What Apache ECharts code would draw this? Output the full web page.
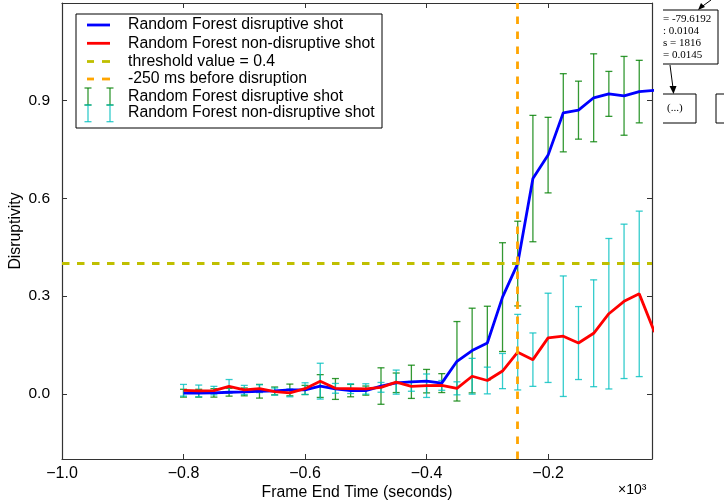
<!DOCTYPE html>
<html>
<head>
<meta charset="utf-8">
<script src="https://cdn.jsdelivr.net/npm/echarts@6/dist/echarts.min.js"></script>
<style>
  html, body { margin: 0; padding: 0; background: #fff; }
  #chart { width: 724px; height: 502px; }
</style>
</head>
<body>
<div id="chart"></div>
<script>
// frame end time, x10^3 seconds
const frameTimes = [-0.8, -0.775, -0.75, -0.725, -0.7, -0.675, -0.65, -0.625, -0.6, -0.575, -0.55, -0.525,
  -0.5, -0.475, -0.45, -0.425, -0.4, -0.375, -0.35, -0.325, -0.3, -0.275, -0.25, -0.225, -0.2, -0.175,
  -0.15, -0.125, -0.1, -0.075, -0.05, -0.025]
const disruptiveMean = [0.002, 0.002, 0.003, 0.005, 0.006, 0.008, 0.009, 0.012, 0.012, 0.024, 0.015, 0.010,
  0.010, 0.024, 0.034, 0.037, 0.039, 0.033, 0.100, 0.133, 0.156, 0.297, 0.400, 0.661, 0.733, 0.863,
  0.871, 0.909, 0.921, 0.915, 0.928, 0.932]
// last point lies outside the axis, no bar drawn for it
const disruptiveStd = [0.012, 0.012, 0.013, 0.012, 0.012, 0.021, 0.012, 0.018, 0.014, 0.035, 0.032, 0.019,
  0.014, 0.056, 0.030, 0.051, 0.036, 0.029, 0.122, 0.130, 0.113, 0.167, 0.130, 0.194, 0.116, 0.120,
  0.089, 0.135, 0.069, 0.121, 0.096, null]
const nonDisruptiveMean = [0.011, 0.009, 0.010, 0.023, 0.012, 0.016, 0.007, 0.003, 0.016, 0.039, 0.017, 0.016,
  0.015, 0.020, 0.036, 0.023, 0.025, 0.026, 0.017, 0.054, 0.041, 0.070, 0.128, 0.105, 0.172, 0.177,
  0.156, 0.186, 0.246, 0.284, 0.307, 0.190]
const nonDisruptiveStd = [0.018, 0.018, 0.013, 0.021, 0.014, 0.012, 0.011, 0.012, 0.018, 0.055, 0.015, 0.015,
  0.016, 0.015, 0.037, 0.015, 0.036, 0.015, 0.020, 0.055, 0.041, 0.054, 0.116, 0.082, 0.137, 0.185,
  0.112, 0.164, 0.231, 0.237, 0.254, null]
const thresholdValue = 0.4
const warningTime = -0.25
const xTicks = [-1.0, -0.8, -0.6, -0.4, -0.2]
const yTicks = [0.0, 0.3, 0.6, 0.9]
const legendNames = ['Random Forest disruptive shot', 'Random Forest non-disruptive shot',
  'threshold value = 0.4', '-250 ms before disruption', 'Random Forest disruptive shot',
  'Random Forest non-disruptive shot']
const treeLines = ['= -79.6192', ': 0.0104', 's = 1816', '= 0.0145']

const BLUE = '#0000ff'
const RED = '#ff0000'
const YELLOW = '#bfbf00'
const ORANGE = '#ffa500'
const GREEN = 'rgba(0,128,0,0.8)'
const CYAN = 'rgba(0,191,191,0.8)'
const FONT = 'Liberation Sans, Arial, sans-serif'

const chart = echarts.init(document.getElementById('chart'))

function pairs(ys) {
  return frameTimes.map((t, i) => [t, ys[i]])
}
function bars(mean, std) {
  return frameTimes
    .map((t, i) => std[i] == null ? null : [t, mean[i] - std[i], mean[i] + std[i]])
    .filter(d => d)
}
function minus(v) {
  return v.toFixed(1).replace('-', '\u2212')
}

function errorBarItem(color) {
  return function (params, api) {
    const x = api.value(0)
    const lo = api.coord([x, api.value(1)])
    const hi = api.coord([x, api.value(2)])
    const w = 3.5
    const style = { stroke: color, lineWidth: 1.3 }
    return {
      type: 'group',
      children: [
        { type: 'line', shape: { x1: lo[0], y1: lo[1], x2: hi[0], y2: hi[1] }, style },
        { type: 'line', shape: { x1: lo[0] - w, y1: lo[1], x2: lo[0] + w, y2: lo[1] }, style },
        { type: 'line', shape: { x1: hi[0] - w, y1: hi[1], x2: hi[0] + w, y2: hi[1] }, style }
      ]
    }
  }
}

// legend drawn by hand (two entries share a name)
const rowY = [25, 43.3, 61.5, 79, 96.7, 112.7]
const legend = [
  { type: 'rect', shape: { x: 76, y: 14, width: 306, height: 114 }, style: { fill: '#fff', stroke: '#000', lineWidth: 1 } },
  { type: 'line', shape: { x1: 87, y1: rowY[0], x2: 110, y2: rowY[0] }, style: { stroke: BLUE, lineWidth: 2.8 } },
  { type: 'line', shape: { x1: 87, y1: rowY[1], x2: 110, y2: rowY[1] }, style: { stroke: RED, lineWidth: 2.8 } },
  { type: 'line', shape: { x1: 87, y1: rowY[2], x2: 94, y2: rowY[2] }, style: { stroke: YELLOW, lineWidth: 2.8 } },
  { type: 'line', shape: { x1: 102, y1: rowY[2], x2: 110, y2: rowY[2] }, style: { stroke: YELLOW, lineWidth: 2.8 } },
  { type: 'line', shape: { x1: 87, y1: rowY[3], x2: 94, y2: rowY[3] }, style: { stroke: ORANGE, lineWidth: 2.8 } },
  { type: 'line', shape: { x1: 102, y1: rowY[3], x2: 110, y2: rowY[3] }, style: { stroke: ORANGE, lineWidth: 2.8 } }
]
;[[GREEN, 88, 105], [CYAN, 105, 121.7]].forEach(([c, y1, y2]) => {
  [88, 110].forEach(x => {
    const s = { stroke: c, lineWidth: 1.3 }
    legend.push({ type: 'line', shape: { x1: x, y1: y1, x2: x, y2: y2 }, style: s })
    legend.push({ type: 'line', shape: { x1: x - 3.5, y1: y1, x2: x + 3.5, y2: y1 }, style: s })
    legend.push({ type: 'line', shape: { x1: x - 3.5, y1: y2, x2: x + 3.5, y2: y2 }, style: s })
  })
})
legendNames.forEach((name, i) => {
  legend.push({
    type: 'text', x: 128, y: rowY[i],
    style: { text: name, font: '15.8px ' + FONT, fill: '#000', verticalAlign: 'middle' }
  })
})

// piece of the neighbouring tree figure, cut at the right edge
const tree = [
  { type: 'polyline', shape: { points: [[663, 10], [718, 10], [718, 64], [663, 64]] }, style: { stroke: '#000', lineWidth: 1, fill: null } },
  { type: 'polyline', shape: { points: [[663, 94], [696, 94], [696, 123], [663, 123]] }, style: { stroke: '#000', lineWidth: 1, fill: null } },
  { type: 'polyline', shape: { points: [[724, 94], [716, 94], [716, 123], [724, 123]] }, style: { stroke: '#000', lineWidth: 1, fill: null } },
  { type: 'line', shape: { x1: 711, y1: 0, x2: 700, y2: 8 }, style: { stroke: '#000', lineWidth: 1 } },
  { type: 'polygon', shape: { points: [[698, 10], [701, 3], [705, 7]] }, style: { fill: '#000' } },
  { type: 'line', shape: { x1: 670, y1: 65, x2: 673, y2: 88 }, style: { stroke: '#000', lineWidth: 1 } },
  { type: 'polygon', shape: { points: [[673.5, 94], [669.5, 86], [676.5, 86]] }, style: { fill: '#000' } },
  { type: 'text', x: 667, y: 108, style: { text: '(...)', font: '11px Liberation Serif, serif', fill: '#000', verticalAlign: 'middle' } }
]
treeLines.forEach((t, i) => {
  tree.push({ type: 'text', x: 663, y: 19 + i * 12, style: { text: t, font: '11px Liberation Serif, serif', fill: '#000', verticalAlign: 'middle' } })
})

const axisLine = { show: true, onZero: false, lineStyle: { color: '#333', width: 1.2 } }
const tick = { show: true, inside: true, length: 5, lineStyle: { color: '#333' } }

const option = {
  animation: false,
  grid: { left: 62, right: 72, top: 3, bottom: 43, containLabel: false, outerBoundsMode: 'none' },
  xAxis: [
    {
      type: 'value', min: -1.0, max: -0.029, position: 'bottom',
      axisLine: axisLine,
      axisTick: Object.assign({ customValues: xTicks }, tick),
      axisLabel: { customValues: xTicks, formatter: minus, color: '#000', fontSize: 16, fontFamily: FONT, margin: 7 },
      splitLine: { show: false },
      name: 'Frame End Time (seconds)', nameLocation: 'middle', nameGap: 26, nameMoveOverlap: false,
      nameTextStyle: { fontSize: 15.8, fontFamily: FONT, color: '#000' }
    },
    {
      type: 'value', min: -1.0, max: -0.029, position: 'top',
      axisLine: axisLine,
      axisTick: Object.assign({ customValues: xTicks }, tick),
      axisLabel: { show: false },
      splitLine: { show: false }
    }
  ],
  yAxis: [
    {
      type: 'value', min: -0.2, max: 1.2, position: 'left',
      axisLine: axisLine,
      axisTick: Object.assign({ customValues: yTicks }, tick),
      axisLabel: { customValues: yTicks, formatter: minus, color: '#000', fontSize: 15.5, fontFamily: FONT, margin: 12 },
      splitLine: { show: false },
      name: 'Disruptivity', nameLocation: 'middle', nameGap: 38, nameMoveOverlap: false,
      nameTextStyle: { fontSize: 15.8, fontFamily: FONT, color: '#000' }
    },
    {
      type: 'value', min: -0.2, max: 1.2, position: 'right',
      axisLine: axisLine,
      axisTick: Object.assign({ customValues: yTicks }, tick),
      axisLabel: { show: false },
      splitLine: { show: false }
    }
  ],
  series: [
    {
      type: 'custom', name: 'disruptive err', data: bars(disruptiveMean, disruptiveStd),
      renderItem: errorBarItem(GREEN), encode: { x: 0, y: [1, 2] }, clip: true, z: 1
    },
    {
      type: 'custom', name: 'non-disruptive err', data: bars(nonDisruptiveMean, nonDisruptiveStd),
      renderItem: errorBarItem(CYAN), encode: { x: 0, y: [1, 2] }, clip: true, z: 1
    },
    {
      type: 'line', name: 'disruptive', data: pairs(disruptiveMean), showSymbol: false, clip: true, z: 2,
      lineStyle: { color: BLUE, width: 2.8 }
    },
    {
      type: 'line', name: 'non-disruptive', data: pairs(nonDisruptiveMean), showSymbol: false, clip: true, z: 3,
      lineStyle: { color: RED, width: 2.8 }
    },
    {
      type: 'line', name: 'refs', data: [], z: 4,
      markLine: {
        silent: true, symbol: 'none', label: { show: false },
        data: [
          { yAxis: thresholdValue, lineStyle: { color: YELLOW, width: 2.8, type: [7.5, 7.5] } },
          { xAxis: warningTime, lineStyle: { color: ORANGE, width: 2.8, type: [7.5, 7.5] } }
        ]
      }
    }
  ],
  graphic: [
    { type: 'group', silent: true, z: 100, children: legend },
    { type: 'group', silent: true, z: 100, children: tree },
    { type: 'text', x: 618, y: 490, style: { text: '\u00d710\u00b3', font: '14px ' + FONT, fill: '#000', verticalAlign: 'middle' } }
  ]
}

option && chart.setOption(option)
</script>
</body>
</html>
